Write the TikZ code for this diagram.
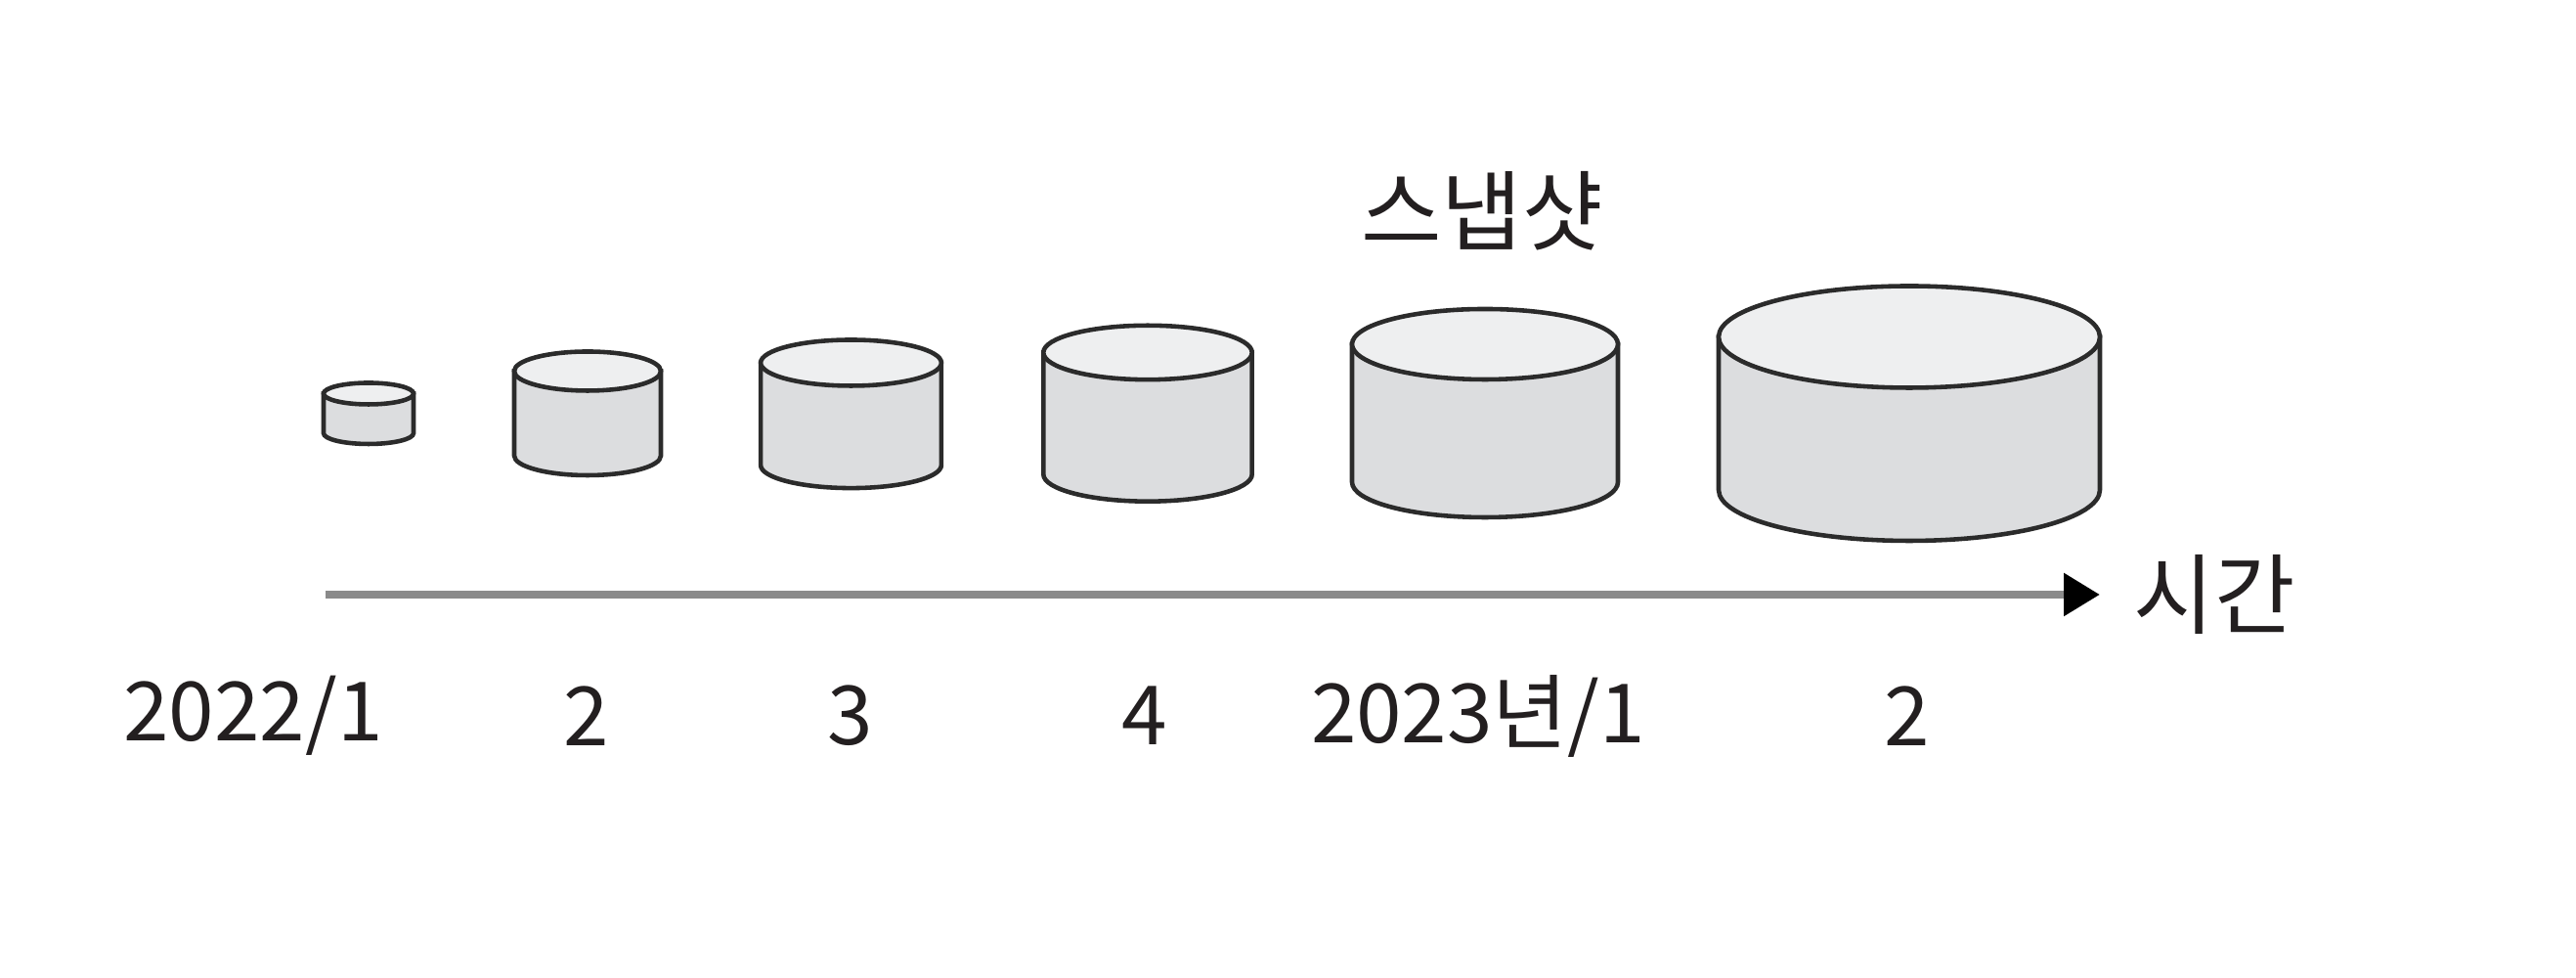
\documentclass[tikz,border=0pt]{standalone}
\usepackage{fontspec}
\setmainfont{Noto Sans CJK KR}
\usepackage{tikz}
\usetikzlibrary{arrows.meta}
\usepackage{xcolor}

\definecolor{drumside}{HTML}{DCDDDF}
\definecolor{drumtop}{HTML}{EEEFF0}
\definecolor{drumline}{HTML}{2B2B2B}
\definecolor{axisgray}{HTML}{8A8A8A}
\definecolor{labeltext}{HTML}{231F20}

% #1 centre x, #2 top y, #3 bottom y, #4 x radius, #5 y radius
\newcommand{\drum}[5]{%
	\filldraw[drum,fill=drumside] (#1-#4,#2) -- (#1-#4,#3) arc[start angle=180,end angle=360,x radius=#4,y radius=#5] -- (#1+#4,#2) -- cycle;
	\filldraw[drum,fill=drumtop] (#1,#2) ellipse[x radius=#4,y radius=#5];
}

\begin{document}
\begin{tikzpicture}[
	drum/.style={draw=drumline, line width=1.3pt},
	lbl/.style={text=labeltext, font=\fontsize{23.8}{28}\selectfont, inner sep=0pt},
	hangul/.style={lbl, font=\fontsize{25.5}{30}\selectfont},
	timeaxis/.style={draw=axisgray, line width=2.5pt, -{Triangle[length=0.37cm,width=0.42cm,color=black]}}
]
	\useasboundingbox (0,0) rectangle (26.35,10);
	% snapshots, growing with time
	\drum{3.77}{5.975}{5.57}{0.46}{0.11}
	\drum{6.01}{6.205}{5.34}{0.75}{0.20}
	\drum{8.705}{6.29}{5.244}{0.924}{0.235}
	\drum{11.74}{6.395}{5.15}{1.067}{0.277}
	\drum{15.19}{6.48}{5.07}{1.36}{0.36}
	\drum{19.53}{6.555}{4.99}{1.95}{0.52}
	\node[hangul] (snap) at (15.16,7.84) {스냅샷};
	% time axis
	\coordinate (t0) at (3.33,3.92);
	\coordinate (t1) at (21.48,3.92);
	\draw[timeaxis] (t0) -- (t1);
	\node[hangul, anchor=west] (time) at (21.82,3.92) {시간};
	% months
	\node[lbl] (m1) at (2.59,2.68) {2022/1};
	\node[lbl] (m2) at (6.00,2.68) {2};
	\node[lbl] (m3) at (8.70,2.68) {3};
	\node[lbl] (m4) at (11.71,2.68) {4};
	\node[lbl] (m5) at (15.12,2.68) {2023년/1};
	\node[lbl] (m6) at (19.51,2.68) {2};
\end{tikzpicture}
\end{document}
